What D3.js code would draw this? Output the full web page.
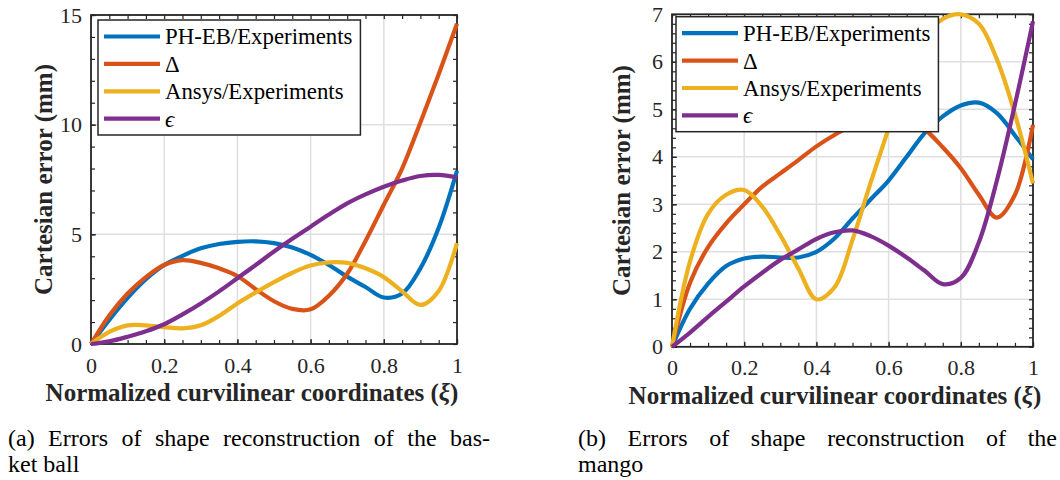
<!DOCTYPE html>
<html><head><meta charset="utf-8">
<script src="https://cdn.jsdelivr.net/npm/d3@7"></script>
<style>
body{margin:0;background:#fff} svg{display:block}
svg text{font-family:"Liberation Serif","Times New Roman",Tinos,"DejaVu Serif",serif;}
</style>
</head><body>
<svg id="fig" width="1060" height="480"></svg>
<script>
// ---------- data ----------
const xi = [0,0.05,0.1,0.15,0.2,0.25,0.3,0.35,0.4,0.45,0.5,0.55,0.6,0.65,0.7,0.75,0.8,0.85,0.9,0.95,1];
const seriesNames = ["PH-EB/Experiments","Δ","Ansys/Experiments","ϵ"];

// (a) basket ball
const basketPHEB  = [0,1.1,2.1,2.95,3.6,4.02,4.36,4.56,4.66,4.68,4.6,4.4,4.06,3.6,3.07,2.6,2.12,2.3,3.45,5.3,7.9];
const basketDelta = [0,1.3,2.3,3.05,3.6,3.82,3.7,3.45,3.1,2.5,1.95,1.6,1.58,2.2,3.2,4.7,6.35,8.0,10.1,12.3,14.6];
const basketAnsys = [0,0.55,0.85,0.85,0.77,0.71,0.85,1.28,1.85,2.35,2.82,3.25,3.58,3.72,3.7,3.45,3.05,2.4,1.78,2.42,4.6];
const basketEps   = [0,0.12,0.33,0.58,0.9,1.35,1.85,2.4,3.0,3.6,4.22,4.8,5.35,5.9,6.41,6.82,7.17,7.45,7.66,7.71,7.6];

// (b) mango
const mangoPHEB  = [0,0.8,1.33,1.7,1.86,1.9,1.88,1.88,2.0,2.28,2.7,3.1,3.5,4.0,4.5,4.85,5.08,5.14,4.92,4.45,3.95];
const mangoDelta = [0,1.35,2.1,2.6,3.0,3.37,3.65,3.93,4.22,4.46,4.66,4.8,4.88,4.82,4.58,4.2,3.76,3.2,2.72,3.2,4.67];
const mangoAnsys = [0,1.8,2.8,3.2,3.3,2.95,2.35,1.65,1.0,1.25,2.25,3.45,4.6,5.7,6.5,6.9,7.0,6.8,6.05,4.9,3.44];
const mangoEps   = [0,0.3,0.63,0.95,1.27,1.56,1.83,2.05,2.27,2.41,2.45,2.33,2.13,1.88,1.6,1.32,1.45,2.2,3.5,5.1,6.85];

const xTicks = [0,0.2,0.4,0.6,0.8,1];
const xTickLabels = ["0","0.2","0.4","0.6","0.8","1"];
const yTicksA = [0,5,10,15];
const yTicksB = [0,1,2,3,4,5,6,7];
const xLabel = "Normalized curvilinear coordinates (";
const xLabelSym = "ξ";
const yLabel = "Cartesian error (mm)";
const captionA = ["(a) Errors of shape reconstruction of the bas-","ket ball"];
const captionB = ["(b) Errors of shape reconstruction of the","mango"];

// ---------- style ----------
const colors = ["#0072BD","#D95319","#EDB120","#7E2F8E"];
const axisColor = "#262626";
const gridColor = "#dfdfdf";

const svg = d3.select("#fig");

function drawPanel(cfg) {
  const x = d3.scaleLinear().domain([0,1]).range([cfg.left, cfg.right]);
  const y = d3.scaleLinear().domain([0,cfg.ymax]).range([cfg.bottom, cfg.top]);
  const g = svg.append("g");

  // grid
  g.append("g").selectAll("line").data(xTicks).join("line")
    .attr("x1", d=>x(d)).attr("x2", d=>x(d)).attr("y1", cfg.top).attr("y2", cfg.bottom)
    .attr("stroke", gridColor).attr("stroke-width", 1.5);
  g.append("g").selectAll("line").data(cfg.yTicks).join("line")
    .attr("y1", d=>y(d)).attr("y2", d=>y(d)).attr("x1", cfg.left).attr("x2", cfg.right)
    .attr("stroke", gridColor).attr("stroke-width", 1.5);

  const minorX = d3.range(0, 1.0001, 0.05);
  const minorY = d3.range(0, cfg.ymax + 1e-6, cfg.minorStep);
  const h = cfg.bottom - cfg.top, w = cfg.right - cfg.left;

  function styleAxis(sel) {
    sel.attr("font-family", null).attr("font-size", null);
    sel.select(".domain").remove();
    sel.selectAll("line").attr("stroke", axisColor).attr("stroke-width", 1.2);
    sel.selectAll("text").attr("fill", axisColor).style("font-size", "22px");
  }
  // bottom
  g.append("g").attr("transform", `translate(0,${cfg.bottom})`)
    .call(d3.axisBottom(x).tickValues(minorX).tickSize(-4).tickFormat("")).call(styleAxis);
  g.append("g").attr("transform", `translate(0,${cfg.bottom})`)
    .call(d3.axisBottom(x).tickValues(xTicks).tickSize(-5).tickPadding(13)
      .tickFormat((d,i)=>xTickLabels[i])).call(styleAxis);
  // top
  g.append("g").attr("transform", `translate(0,${cfg.top})`)
    .call(d3.axisTop(x).tickValues(minorX).tickSize(-4).tickFormat("")).call(styleAxis);
  // left
  g.append("g").attr("transform", `translate(${cfg.left},0)`)
    .call(d3.axisLeft(y).tickValues(minorY).tickSize(-4).tickFormat("")).call(styleAxis);
  g.append("g").attr("transform", `translate(${cfg.left},0)`)
    .call(d3.axisLeft(y).tickValues(cfg.yTicks).tickSize(-5).tickPadding(9)
      .tickFormat(d3.format("d"))).call(styleAxis);
  // right
  g.append("g").attr("transform", `translate(${cfg.right},0)`)
    .call(d3.axisRight(y).tickValues(minorY).tickSize(-4).tickFormat("")).call(styleAxis);

  // frame
  g.append("rect").attr("x", cfg.left).attr("y", cfg.top).attr("width", w).attr("height", h)
    .attr("fill", "none").attr("stroke", axisColor).attr("stroke-width", 1.8);

  // data lines
  const line = d3.line().x((d,i)=>x(xi[i])).y(d=>y(d)).curve(d3.curveCatmullRom.alpha(0.5));
  cfg.series.forEach((s, k) => {
    g.append("path").datum(s).attr("d", line).attr("fill", "none")
      .attr("stroke", colors[k]).attr("stroke-width", 4.2).attr("stroke-linejoin", "round");
  });

  // axis labels
  const xl = g.append("text").attr("x", cfg.xLabelX).attr("y", cfg.bottom + 57)
    .attr("text-anchor", "middle").attr("fill", axisColor)
    .style("font-size", "25px").style("font-weight", "bold");
  xl.append("tspan").text(xLabel);
  xl.append("tspan").style("font-style", "italic").text(xLabelSym);
  xl.append("tspan").text(")");

  g.append("text").attr("transform", `translate(${cfg.yLabelX},${(cfg.top+cfg.bottom)/2}) rotate(-90)`)
    .attr("text-anchor", "middle").attr("fill", axisColor)
    .style("font-size", "25px").style("font-weight", "bold")
    .text(yLabel);

  // legend
  const lg = g.append("g").attr("transform", `translate(${cfg.legX},${cfg.legY})`);
  const box = lg.append("rect").attr("fill", "#fff").attr("stroke", axisColor).attr("stroke-width", 1.5);
  let maxW = 0;
  seriesNames.forEach((name, k) => {
    const yy = 16.5 + k * 27.4;
    lg.append("line").attr("x1", 6).attr("x2", 62).attr("y1", yy).attr("y2", yy)
      .attr("stroke", colors[k]).attr("stroke-width", 4.2);
    const t = lg.append("text").attr("x", 67).attr("y", yy).attr("dy", "0.35em").attr("fill", "#000")
      .style("font-size", "22.8px")
      .style("font-style", k === 3 ? "italic" : "normal").text(name);
    maxW = Math.max(maxW, t.node().getComputedTextLength());
  });
  box.attr("x", 0).attr("y", 0).attr("width", 67 + maxW + 8).attr("height", 115);
}

drawPanel({left: 91, right: 457, top: 15, bottom: 344, ymax: 15, yTicks: yTicksA, minorStep: 1,
  series: [basketPHEB, basketDelta, basketAnsys, basketEps],
  xLabelX: 252, yLabelX: 52, legX: 98, legY: 20});
drawPanel({left: 672, right: 1033, top: 14.3, bottom: 346.8, ymax: 7, yTicks: yTicksB, minorStep: 0.2,
  series: [mangoPHEB, mangoDelta, mangoAnsys, mangoEps],
  xLabelX: 835, yLabelX: 630, legX: 676, legY: 16.7});

// captions
function caption(lines, x0, x1, y0) {
  const cg = svg.append("g");
  lines.forEach((ln, li) => {
    const yy = y0 + li * 26;
    const words = ln.split(" ");
    if (li === lines.length - 1) {
      cg.append("text").attr("x", x0).attr("y", yy).attr("fill", "#000")
        .style("font-size", "24px").text(ln);
      return;
    }
    const nodes = words.map(wd => cg.append("text").attr("y", yy).attr("fill", "#000")
      .style("font-size", "24px").text(wd));
    const widths = nodes.map(n => n.node().getComputedTextLength());
    const total = d3.sum(widths);
    const gap = (x1 - x0 - total) / (words.length - 1);
    let cx = x0;
    nodes.forEach((n, i) => { n.attr("x", cx); cx += widths[i] + gap; });
  });
}
caption(captionA, 8, 490, 446);
caption(captionB, 578, 1057, 446);
</script>
</body></html>
